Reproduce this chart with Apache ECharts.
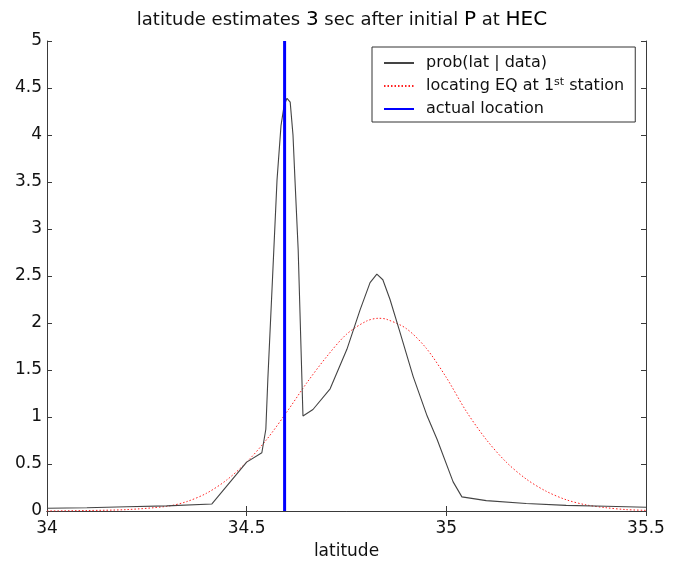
<!DOCTYPE html>
<html>
<head>
<meta charset="utf-8">
<script src="https://cdn.jsdelivr.net/npm/echarts@6/dist/echarts.min.js"></script>
<style>
  html, body { margin: 0; padding: 0; background: #fff; }
  #chart { width: 684px; height: 565px; }
</style>
</head>
<body>
<div id="chart"></div>
<script>
// Posterior probability of latitude given the data
const probLat = [34.0, 34.1, 34.2, 34.3, 34.413, 34.5, 34.538, 34.548, 34.553, 34.565, 34.576, 34.586, 34.594, 34.601, 34.609, 34.616, 34.621, 34.629, 34.641, 34.666, 34.709, 34.751, 34.784, 34.809, 34.826, 34.841, 34.859, 34.884, 34.917, 34.952, 34.977, 35.017, 35.039, 35.1, 35.2, 35.3, 35.4, 35.5];
const probVal = [0.03, 0.035, 0.045, 0.055, 0.075, 0.52, 0.62, 0.87, 1.4, 2.5, 3.52, 4.1, 4.32, 4.39, 4.35, 4.0, 3.52, 2.78, 1.01, 1.08, 1.30, 1.72, 2.14, 2.43, 2.52, 2.46, 2.25, 1.90, 1.43, 1.01, 0.76, 0.31, 0.15, 0.11, 0.08, 0.06, 0.05, 0.04];

// Estimate from locating the earthquake at the first station
const firstLat = [34.0, 34.1, 34.2, 34.3, 34.35, 34.4, 34.45, 34.5, 34.55, 34.6, 34.65, 34.7, 34.75, 34.8, 34.83, 34.85, 34.9, 34.95, 35.0, 35.05, 35.1, 35.15, 35.2, 35.25, 35.3, 35.35, 35.4, 35.45, 35.5];
const firstVal = [0.0, 0.005, 0.015, 0.05, 0.10, 0.19, 0.33, 0.52, 0.76, 1.05, 1.36, 1.64, 1.88, 2.02, 2.05, 2.04, 1.94, 1.73, 1.42, 1.06, 0.76, 0.52, 0.34, 0.21, 0.12, 0.065, 0.035, 0.015, 0.007];

// True epicentre latitude
const actualLat = 34.595;
const yRange = [0, 5];

const xTicks = ['34', '34.5', '35', '35.5'];
const yTicks = ['0', '0.5', '1', '1.5', '2', '2.5', '3', '3.5', '4', '4.5', '5'];

const FONT = '"DejaVu Sans", "Liberation Sans", sans-serif';
const AX = '#3a3a3a';
const TXT = '#111';

const zip = (a, b) => a.map((v, i) => [v, b[i]]);

const chart = echarts.init(document.getElementById('chart'));

const mirrorAxis = {
  axisLine: { show: true, lineStyle: { color: AX, width: 1 } },
  axisTick: { show: true, inside: true, length: 5, lineStyle: { color: AX } },
  axisLabel: { show: false },
  splitLine: { show: false }
};

chart.setOption({
  animation: false,
  backgroundColor: '#fff',
  title: {
    text: '{n|latitude estimates }{b|3}{n| sec after initial }{b|P}{n| at }{b|HEC}',
    left: 'center',
    top: 5,
    textStyle: {
      rich: {
        n: { fontFamily: FONT, fontSize: 18, fontWeight: 'normal', color: TXT },
        b: { fontFamily: FONT, fontSize: 20, fontWeight: 'normal', color: '#000' }
      }
    }
  },
  grid: { left: 47, right: 38, top: 41, bottom: 53, containLabel: false },
  legend: {
    orient: 'vertical',
    left: 372,
    top: 47,
    padding: [7, 11, 4, 11],
    itemGap: 5,
    itemWidth: 30,
    itemHeight: 14,
    backgroundColor: '#fff',
    borderColor: '#333',
    borderWidth: 1,
    borderRadius: 0,
    itemStyle: { opacity: 0, borderWidth: 0 },
    textStyle: {
      fontFamily: FONT,
      fontSize: 16,
      lineHeight: 18,
      color: TXT,
      padding: [0, 0, 0, 7],
      rich: {
        sup: { fontFamily: FONT, fontSize: 11, lineHeight: 18, color: TXT, verticalAlign: 'top', padding: [0, 0, 7, 0] },
        t: { fontFamily: FONT, fontSize: 16, lineHeight: 18, color: TXT }
      }
    },
    formatter: function (name) {
      if (name === 'locating EQ at 1st station') {
        return '{t|locating EQ at 1}{sup|st}{t| station}';
      }
      return name;
    },
    data: ['prob(lat | data)', 'locating EQ at 1st station', 'actual location']
  },
  xAxis: [
    {
      type: 'value',
      min: 34, max: 35.5, interval: 0.5,
      name: 'latitude',
      nameLocation: 'middle',
      nameGap: 32,
      nameTextStyle: { fontFamily: FONT, fontSize: 17, color: TXT },
      axisLine: { show: true, onZero: false, lineStyle: { color: AX, width: 1 } },
      axisTick: { show: true, inside: true, length: 5, lineStyle: { color: AX } },
      axisLabel: {
        fontFamily: FONT, fontSize: 17, color: TXT, margin: 9,
        formatter: function (v) {
          const i = Math.round((v - 34) / 0.5);
          return xTicks[i] !== undefined ? xTicks[i] : '';
        }
      },
      splitLine: { show: false }
    },
    Object.assign({ type: 'value', position: 'top', min: 34, max: 35.5, interval: 0.5 }, mirrorAxis)
  ],
  yAxis: [
    {
      type: 'value',
      min: yRange[0], max: yRange[1], interval: 0.5,
      axisLine: { show: true, onZero: false, lineStyle: { color: AX, width: 1 } },
      axisTick: { show: true, inside: true, length: 5, lineStyle: { color: AX } },
      axisLabel: {
        fontFamily: FONT, fontSize: 17, color: TXT, margin: 5,
        formatter: function (v) {
          const i = Math.round(v / 0.5);
          return yTicks[i] !== undefined ? yTicks[i] : '';
        }
      },
      splitLine: { show: false }
    },
    Object.assign({ type: 'value', position: 'right', min: yRange[0], max: yRange[1], interval: 0.5 }, mirrorAxis)
  ],
  series: [
    {
      name: 'prob(lat | data)',
      type: 'line',
      data: zip(probLat, probVal),
      symbol: 'none',
      lineStyle: { color: '#444', width: 1.1 },
      itemStyle: { color: '#444' },
      z: 3
    },
    {
      name: 'locating EQ at 1st station',
      type: 'line',
      data: zip(firstLat, firstVal),
      smooth: 0.3,
      symbol: 'none',
      lineStyle: { color: '#ff2020', width: 1, type: [1.5, 2] },
      itemStyle: { color: '#ff2020' },
      z: 2
    },
    {
      name: 'actual location',
      type: 'line',
      data: [[actualLat, yRange[0]], [actualLat, yRange[1]]],
      symbol: 'none',
      lineStyle: { color: '#0000ff', width: 3 },
      itemStyle: { color: '#0000ff' },
      z: 4
    }
  ]
});
</script>
</body>
</html>
